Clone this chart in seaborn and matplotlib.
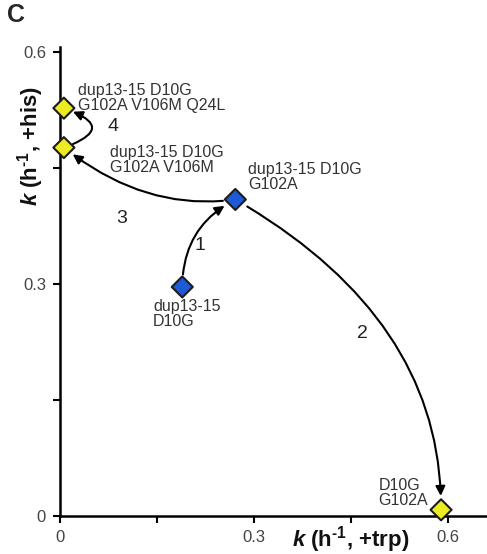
import matplotlib
matplotlib.use("Agg")
import matplotlib.pyplot as plt
import seaborn as sns
import pandas as pd

# growth rates (h^-1)
genotypes = [
    "dup13-15\nD10G",
    "dup13-15 D10G\nG102A",
    "dup13-15 D10G\nG102A V106M",
    "dup13-15 D10G\nG102A V106M Q24L",
    "D10G\nG102A",
]
k_trp = [0.189, 0.271, 0.006, 0.006, 0.589]
k_his = [0.296, 0.409, 0.476, 0.527, 0.008]
group = ["blue", "blue", "yellow", "yellow", "yellow"]

# mutational steps between genotypes (index from -> index to)
step_from = [0, 1, 1, 2]
step_to = [1, 4, 2, 3]
step_names = ["1", "2", "3", "4"]

x_ticks = [0, 0.3, 0.6]
y_ticks = [0, 0.3, 0.6]

sns.set_style("ticks")
plt.rcParams["font.family"] = ["Liberation Sans", "DejaVu Sans"]
plt.rcParams["mathtext.fontset"] = "custom"
plt.rcParams["mathtext.rm"] = "Liberation Sans:bold"
plt.rcParams["mathtext.it"] = "Liberation Sans:bold:italic"
plt.rcParams["mathtext.bf"] = "Liberation Sans:bold"

df = pd.DataFrame({"k_trp": k_trp, "k_his": k_his, "group": group, "name": genotypes})

fig = plt.figure(figsize=(4.87, 5.54), dpi=100)
ax = fig.add_axes([60 / 487, 38 / 554, 427 / 487, 469 / 554])

sns.scatterplot(data=df, x="k_trp", y="k_his", hue="group",
                palette={"blue": "#1f5ad6", "yellow": "#ecec22"},
                marker="D", s=115, edgecolor="#1c1c1c", linewidth=1.5,
                legend=False, zorder=5, clip_on=False, ax=ax)

# arrows for each mutational step
conns = ["arc3,rad=-0.3", "angle3,angleA=-30,angleB=90",
         "angle3,angleA=188,angleB=-38", "arc3,rad=1.4"]
shrinks = [(9, 9), (10, 10), (9, 8), (7, 7)]
num_pos = [(0.216, 0.349), (0.467, 0.236), (0.096, 0.385), (0.082, 0.503)]
for a, b, nm, cs, (sa, sb), npos in zip(step_from, step_to, step_names, conns, shrinks, num_pos):
    ax.annotate("", xy=(k_trp[b], k_his[b]), xytext=(k_trp[a], k_his[a]),
                arrowprops=dict(arrowstyle="-|>", color="black", lw=1.5,
                                mutation_scale=14, shrinkA=sa, shrinkB=sb,
                                connectionstyle=cs),
                zorder=3, annotation_clip=False)
    ax.text(npos[0], npos[1], nm, fontsize=14, color="#222222", ha="center", va="center")

# genotype labels
label_pos = [(0.144, 0.281), (0.291, 0.457), (0.077, 0.480), (0.028, 0.559), (0.492, 0.049)]
for nm, (lx, ly) in zip(genotypes, label_pos):
    ax.text(lx, ly, nm, fontsize=11.5, color="#333333", ha="left", va="top", linespacing=1.0)

ax.set_xlim(0, 0.66)
ax.set_ylim(0, 0.606)
ax.set_xticks(x_ticks)
ax.set_xticklabels(["0", "0.3", "0.6"])
ax.set_yticks(y_ticks)
ax.set_yticklabels(["0", "0.3", "0.6"])
ax.set_xticks([0.15, 0.45], minor=True)
ax.set_yticks([0.15, 0.45], minor=True)
ax.tick_params(axis="both", which="both", direction="out", length=5, width=1.5,
               color="black", labelsize=12, labelcolor="#444444", pad=5)

sns.despine(ax=ax)
for side in ["left", "bottom"]:
    ax.spines[side].set_linewidth(1.8)
    ax.spines[side].set_color("black")

ax.set_xlabel(r"$\mathit{k}$ (h$^{\text{-}1}$, +trp)", fontsize=16, fontweight="bold", color="#111111")
ax.xaxis.label.set_va("center")
ax.xaxis.set_label_coords(0.68, -0.051)
ax.set_ylabel(r"$\mathit{k}$ (h$^{\text{-}1}$, +his)", fontsize=16, fontweight="bold", color="#111111")
ax.yaxis.label.set_va("center")
ax.yaxis.set_label_coords(-0.07, 0.789)

fig.text(0.014, 0.995, "C", fontsize=18, fontweight="bold", ha="left", va="top")

fig.savefig("out.png", dpi=100)
